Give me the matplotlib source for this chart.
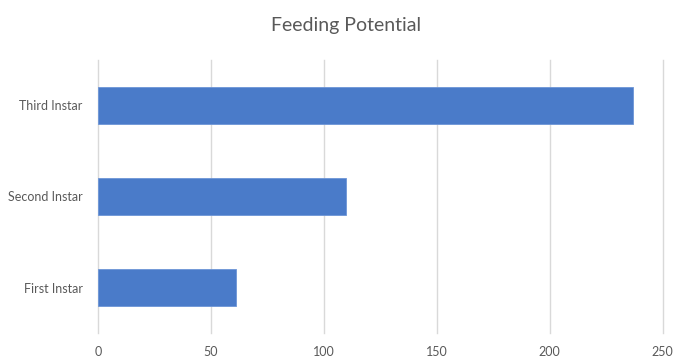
import matplotlib.pyplot as plt

# feeding potential per larval stage
stages = ["First Instar", "Second Instar", "Third Instar"]
values = [61, 110, 237]
x_ticks = [0, 50, 100, 150, 200, 250]

plt.rcParams['font.family'] = ['Lato', 'DejaVu Sans']

fig = plt.figure(figsize=(6.75, 3.59), dpi=100)
ax = fig.add_axes([0.1452, 0.0724, 0.8363, 0.7605])

ax.barh(range(len(stages)), values, height=0.4, color="#4a7bc9",
        edgecolor="#6d95d6", linewidth=0.6, zorder=3)

ax.set_xlim(0, 250)
ax.set_ylim(-0.5, len(stages) - 0.5)
ax.set_xticks(x_ticks)
ax.set_yticks(range(len(stages)))
ax.set_yticklabels(stages)

ax.grid(axis="x", color="#d9d9d9", linewidth=1.0, zorder=0)
for gl in ax.get_xgridlines():
    gl.set_clip_on(False)
for s in ax.spines.values():
    s.set_visible(False)
ax.tick_params(axis="both", length=0, labelsize=9, colors="#595959")
ax.tick_params(axis="x", pad=9)
ax.tick_params(axis="y", pad=11)

fig.text(0.513, 0.93, "Feeding Potential", ha="center", va="center",
         fontsize=14, color="#595959")

fig.savefig("out.png", dpi=100)
